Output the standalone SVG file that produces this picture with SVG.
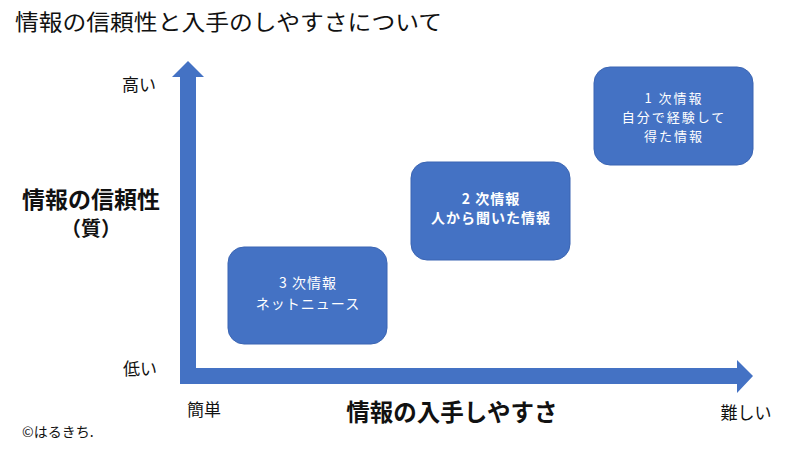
<svg xmlns="http://www.w3.org/2000/svg" width="800" height="449" viewBox="0 0 800 449">
<style>
text{font-family:"Noto Sans CJK JP","Noto Sans",sans-serif;}
.t{fill:#111;}
.b{font-weight:bold;}
.box{fill:#4472C4;stroke:#3b65b3;stroke-width:1;}
.bt{fill:#fff;font-size:14px;text-anchor:middle;letter-spacing:1px;}
.bs{font-size:13px;letter-spacing:2px;}
.ax{fill:#4472C4;}
</style>
<rect width="800" height="449" fill="#fff"/>
<text class="t" x="15" y="30" font-size="22" textLength="427" lengthAdjust="spacingAndGlyphs">情報の信頼性と入手のしやすさについて</text>
<g id="axes">
<polygon class="ax" points="180,384 180,77 172,77 188,61 204,77 196,77 196,368 737,368 737,360 753,376 737,393 737,384"/>
</g>
<g id="box3">
<rect class="box" x="228" y="247" width="159" height="97" rx="16"/>
<text class="bt" x="308" y="288">3 次情報</text>
<text class="bt" x="308" y="309">ネットニュース</text>
</g>
<g id="box2">
<rect class="box" x="411" y="162" width="159" height="98" rx="16"/>
<text class="bt b" x="491" y="204">2 次情報</text>
<text class="bt b" x="491" y="223">人から聞いた情報</text>
</g>
<g id="box1">
<rect class="box" x="594" y="67" width="159" height="98" rx="16"/>
<text class="bt bs" x="674" y="103">1 次情報</text>
<text class="bt bs" x="674" y="122">自分で経験して</text>
<text class="bt bs" x="674" y="141">得た情報</text>
</g>
<g id="labels">
<text class="t" x="139" y="91" font-size="17" text-anchor="middle">高い</text>
<text class="t" x="140" y="375" font-size="17" text-anchor="middle">低い</text>
<text class="t b" x="91" y="208" font-size="23" text-anchor="middle">情報の信頼性</text>
<text class="t b" x="91" y="236" font-size="20" text-anchor="middle">（質）</text>
<text class="t" x="204" y="416" font-size="17" text-anchor="middle">簡単</text>
<text class="t" x="746" y="419" font-size="17" text-anchor="middle">難しい</text>
<text class="t b" x="452" y="421" font-size="23.5" text-anchor="middle">情報の入手しやすさ</text>
<text class="t" x="22" y="437" font-size="14">©はるきち.</text>
</g>
</svg>
